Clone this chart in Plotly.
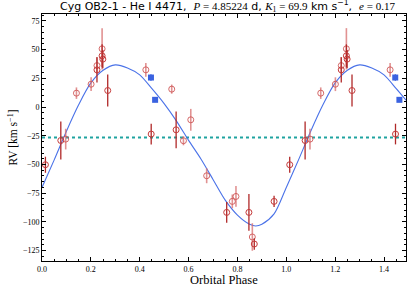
import plotly.graph_objects as go

# ---- data ----
# dark-red error-bar group (phase, RV, err)
dark_phase = [0.014, 0.077, 0.225, 0.246, 0.249, 0.269, 0.447, 0.549, 0.756, 0.847, 0.869, 0.950]
dark_rv    = [-50.2, -29.1, 32.4, 44.6, 41.7, 14.4, -23.5, -19.8, -91.7, -91.7, -119.2, -82.1]
dark_err   = [7.0, 16.5, 11.0, 10.0, 8.0, 14.0, 9.0, 16.0, 9.0, 16.0, 5.0, 5.0]

# light-red error-bar group
light_phase = [0.097, 0.141, 0.201, 0.225, 0.246, 0.425, 0.531, 0.579, 0.609, 0.674, 0.779, 0.794, 0.861]
light_rv    = [-27.9, 12.1, 19.9, 36.1, 50.7, 32.4, 15.6, -29.3, -11.1, -59.8, -82.1, -77.8, -113.1]
light_err   = [9.0, 5.0, 6.0, 7.5, 18.0, 6.0, 4.0, 4.0, 9.5, 6.5, 6.0, 9.0, 12.0]

# blue squares
blue_phase = [0.446, 0.463]
blue_rv    = [25.7, 6.3]
blue_err   = [3.0, 2.0]

# fitted orbit
curve_phase = [0.00, 0.05, 0.10, 0.15, 0.20, 0.25, 0.30, 0.35, 0.40, 0.45, 0.50, 0.55,
               0.60, 0.65, 0.70, 0.75, 0.80, 0.85, 0.875, 0.90, 0.95, 1.00, 1.05, 1.10,
               1.15, 1.20, 1.25, 1.30, 1.35, 1.40, 1.45, 1.49]
curve_rv = [-70, -46, -21, 2, 21, 32, 36.7, 34, 28, 16, 3, -12,
            -29, -45, -63, -81, -94, -102, -103.5, -102, -93, -70, -46, -21,
            2, 21, 32, 36.7, 34, 28, 16, 6]

gamma = -26.5
x_max = 1.49


def fold(ph, rv, err):
    P, R, E = list(ph), list(rv), list(err)
    for p, r, e in zip(ph, rv, err):
        if p + 1 <= x_max:
            P.append(p + 1); R.append(r); E.append(e)
    return P, R, E


fig = go.Figure()

fig.add_trace(go.Scatter(x=[0, x_max], y=[gamma, gamma], mode="lines",
                         line=dict(color="#1fa3a0", width=2, dash="dot"),
                         hoverinfo="skip"))

fig.add_trace(go.Scatter(x=curve_phase, y=curve_rv, mode="lines",
                         line=dict(color="#4a72e8", width=1.1, shape="spline", smoothing=0.8)))

P, R, E = fold(light_phase, light_rv, light_err)
fig.add_trace(go.Scatter(x=P, y=R, mode="markers",
                         marker=dict(symbol="circle-open", size=6, color="rgba(205,80,80,0.85)",
                                     line=dict(width=1)),
                         error_y=dict(type="data", array=E, color="rgba(215,110,110,0.75)",
                                      thickness=1.6, width=0)))

P, R, E = fold(dark_phase, dark_rv, dark_err)
fig.add_trace(go.Scatter(x=P, y=R, mode="markers",
                         marker=dict(symbol="circle-open", size=6, color="#c53a3a",
                                     line=dict(width=1)),
                         error_y=dict(type="data", array=E, color="#b02828",
                                      thickness=1.3, width=0)))

P, R, E = fold(blue_phase, blue_rv, blue_err)
fig.add_trace(go.Scatter(x=P, y=R, mode="markers",
                         marker=dict(symbol="square", size=6, color="#3a62e0"),
                         error_y=dict(type="data", array=E, color="#3a62e0",
                                      thickness=1, width=0)))

serif = "Liberation Serif, DejaVu Serif, serif"
title = ('Cyg OB2-1 - He I 4471,  <span style="font-family:Liberation Serif"><i>P</i> = 4.85224</span> d, '
         '<span style="font-family:Liberation Serif"><i>K</i><sub>1</sub> = 69.9</span> km s<sup>−1</sup>,  '
         '<span style="font-family:Liberation Serif"><i>e</i> = 0.17</span>')

fig.update_layout(
    width=415, height=288,
    margin=dict(l=41.5, r=9, t=14, b=27),
    paper_bgcolor="white", plot_bgcolor="white",
    showlegend=False,
)
fig.add_annotation(text=title, xref="paper", yref="paper", x=0.51, y=1,
                   xanchor="center", yanchor="bottom", yshift=-2, showarrow=False,
                   font=dict(family="DejaVu Sans, sans-serif", size=11, color="black"))
fig.add_annotation(text="Orbital Phase", xref="paper", yref="paper", x=0.5, y=0,
                   xanchor="center", yanchor="middle", yshift=-18.5, showarrow=False,
                   font=dict(family=serif, size=12.5, color="black"))

axis_common = dict(showline=True, linecolor="black", linewidth=1, mirror="allticks",
                   ticks="inside", ticklen=4, tickwidth=0.8, tickcolor="black",
                   showgrid=False, zeroline=False,
                   tickfont=dict(family=serif, size=8, color="black"))

fig.update_xaxes(range=[0, x_max], tick0=0, dtick=0.2, tickformat=".1f",
                 minor=dict(dtick=0.05, ticks="inside", ticklen=2, tickcolor="black", showgrid=False),
                 **axis_common)
fig.update_yaxes(range=[-134, 81], tick0=0, dtick=25,
                 minor=dict(dtick=5, ticks="inside", ticklen=2, tickcolor="black", showgrid=False),
                 title=dict(text="RV [km s<sup>−1</sup>]", font=dict(family=serif, size=11.5, color="black"),
                            standoff=2),
                 **axis_common)

fig.write_html("out.html", config={"displayModeBar": False},
               post_script="document.body.style.margin='0';")
